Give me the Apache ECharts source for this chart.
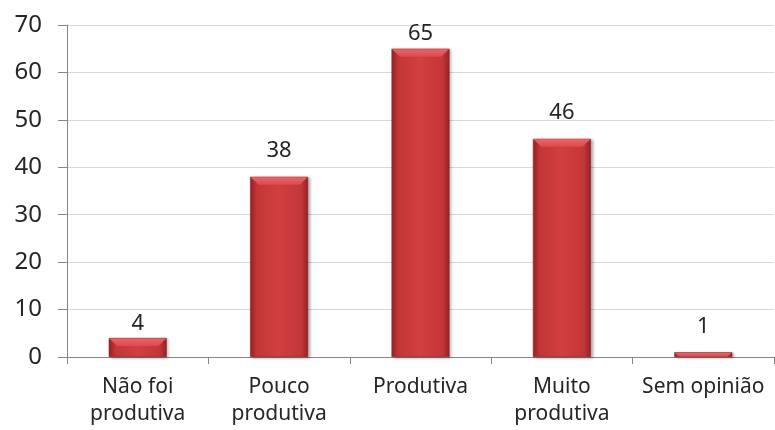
<!DOCTYPE html>
<html>
<head>
<meta charset="utf-8">
<script src="https://cdn.jsdelivr.net/npm/echarts@6/dist/echarts.min.js"></script>
<style>
  html, body { margin: 0; padding: 0; background: #fff; }
  #chart { width: 775px; height: 430px; }
</style>
</head>
<body>
<div id="chart"></div>
<script>
// Avaliação da produtividade: número de respostas por categoria
const categories = ['Não foi\nprodutiva', 'Pouco\nprodutiva', 'Produtiva', 'Muito\nprodutiva', 'Sem opinião'];
const respostas = [4, 38, 65, 46, 1];
const yTicks = { min: 0, max: 70, interval: 10 };

const BAR_W = 58;
const chart = echarts.init(document.getElementById('chart'));

// side-shaded red fill for the bars
const barFill = new echarts.graphic.LinearGradient(0, 0, 1, 0, [
  { offset: 0, color: '#9e2527' },
  { offset: 0.12, color: '#c33638' },
  { offset: 0.5, color: '#d23f40' },
  { offset: 0.88, color: '#c33638' },
  { offset: 1, color: '#962224' }
]);
const bevelFill = new echarts.graphic.LinearGradient(0, 0, 0, 1, [
  { offset: 0, color: '#ec6466' },
  { offset: 1, color: '#dc4a4c' }
]);

// some value labels sit higher above their bar
const labelOffsets = { 1: -11, 3: -11, 4: -11, 0: 1 };
const barData = respostas.map((v, i) => ({
  value: v,
  label: { offset: [0, labelOffsets[i] || 0] }
}));

chart.setOption({
  animation: false,
  grid: { left: 67, right: 1, top: 25, bottom: 73, containLabel: false },
  xAxis: {
    type: 'category',
    data: categories,
    axisLine: { show: true, lineStyle: { color: '#868686', width: 1 } },
    axisTick: { show: true, length: 7, alignWithLabel: false, lineStyle: { color: '#868686' } },
    axisLabel: {
      color: '#262626', fontFamily: 'Noto Sans', fontSize: 21,
      lineHeight: 27, margin: 17, interval: 0
    }
  },
  yAxis: {
    type: 'value',
    min: yTicks.min, max: yTicks.max, interval: yTicks.interval,
    axisLine: { show: true, lineStyle: { color: '#868686', width: 1 } },
    axisTick: { show: true, length: 9, lineStyle: { color: '#868686' } },
    axisLabel: { color: '#262626', fontFamily: 'Noto Sans', fontSize: 24, margin: 25 },
    splitLine: { show: true, lineStyle: { color: '#d9d9d9', width: 1 } }
  },
  series: [{
    type: 'bar',
    data: barData,
    barWidth: BAR_W,
    itemStyle: {
      color: barFill, borderColor: '#8f2022', borderWidth: 0.6,
      shadowColor: 'rgba(0,0,0,0.3)', shadowBlur: 3, shadowOffsetX: 2, shadowOffsetY: 1
    },
    label: {
      show: true, position: 'top', distance: 4,
      color: '#262626', fontFamily: 'Noto Sans', fontSize: 22
    }
  }, {
    // bevelled top face drawn over each bar
    type: 'custom',
    data: respostas.map((v, i) => [i, v]),
    silent: true,
    z: 3,
    renderItem: function (params, api) {
      const top = api.coord([api.value(0), api.value(1)]);
      const base = api.coord([api.value(0), 0]);
      const x0 = top[0] - BAR_W / 2 + 0.5;
      const w = BAR_W - 1;
      const b = Math.min(8, base[1] - top[1] - 0.5);
      return {
        type: 'polygon',
        shape: { points: [[x0, top[1] + 0.5], [x0 + w, top[1] + 0.5], [x0 + w - b, top[1] + b], [x0 + b, top[1] + b]] },
        style: { fill: bevelFill }
      };
    }
  }]
});
</script>
</body>
</html>
